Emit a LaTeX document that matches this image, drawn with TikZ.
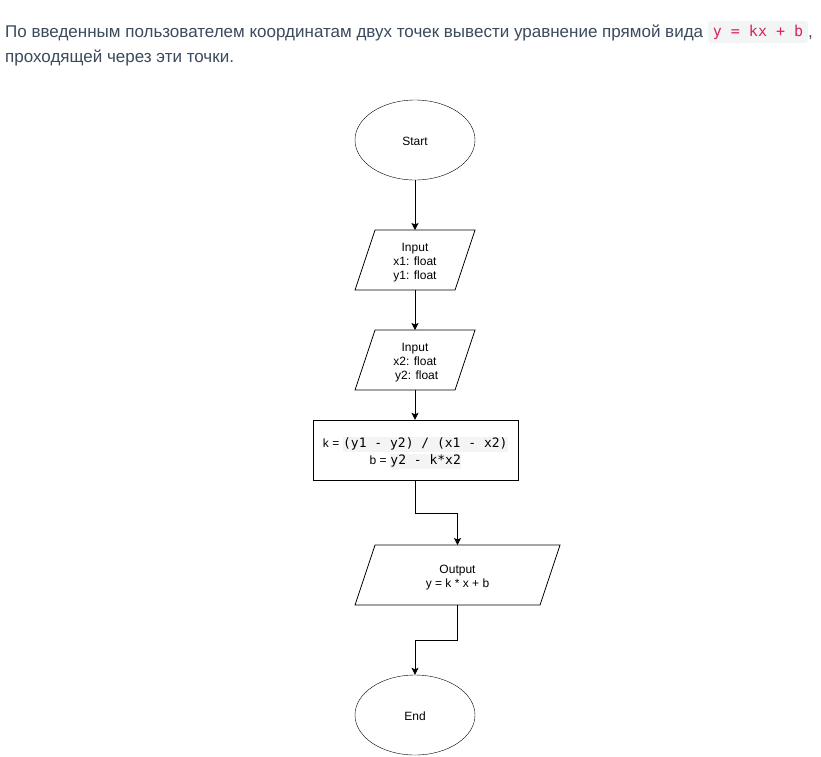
\documentclass[tikz,border=0pt]{standalone}
\usepackage{fontspec}
\setmainfont{Liberation Sans}
\newfontfamily\codefont{DejaVu Sans Mono}
\usetikzlibrary{shapes.geometric,arrows.meta,calc}
\definecolor{hdr}{HTML}{3B4A5C}
\definecolor{codered}{HTML}{DD2255}
\definecolor{codebg}{HTML}{F3F4F6}
\definecolor{hl}{HTML}{F4F4F4}
\newcommand{\hlcode}[1]{{\setlength{\fboxsep}{0.5pt}\colorbox{hl}{\strut\fontsize{13}{14}\selectfont\codefont #1}}}
\begin{document}
\begin{tikzpicture}[x=1pt,y=-1pt,
  every node/.style={font=\fontsize{12}{14}\selectfont, align=center},
  txt/.style={yshift=-3pt},
  term/.style={ellipse, draw, minimum width=120pt, minimum height=80pt, inner sep=0pt},
  io/.style={rectangle, minimum height=60pt, inner sep=0pt, outer sep=0pt},
  proc/.style={rectangle, draw, minimum width=205pt, minimum height=60pt, inner sep=0pt},
  arr/.style={-{Stealth[length=7pt,width=7pt,inset=1.5pt]}, line width=0.8pt},
  hdrtext/.style={font=\fontsize{17}{20}\selectfont, text=hdr, inner sep=0pt, anchor=base west}
]
\useasboundingbox (0,0) rectangle (821,756);
\fill[white] (0,0) rectangle (821,756);

% header
\node[hdrtext] (h1) at (5,37) {По введенным пользователем координатам двух точек вывести уравнение прямой вида};
\node[fill=codebg, rounded corners=3pt, minimum width=100pt, minimum height=22pt, inner sep=0pt,
      font=\fontsize{15}{18}\selectfont\codefont, text=codered] (code) at (758,32) {y = kx + b};
\node[hdrtext] (comma) at (808,37) {,};
\node[hdrtext] (h2) at (5,62) {проходящей через эти точки.};

% flowchart
\node[term, label={[yshift=-1pt]center:Start}] (start) at (415,140) {};
\node[io, minimum width=120pt, label={[txt]center:Input\\x1: float\\y1: float}] (in1) at (415,260) {};
\node[io, minimum width=120pt, label={[txt]center:Input\\x2: float\\\ y2: float}] (in2) at (415,360) {};
\node[proc, label={[txt]center:k = \hlcode{(y1 - y2) / (x1 - x2)}\\[1pt] b = \hlcode{y2 - k*x2}}] (calc) at (415.5,450) {};
\node[io, minimum width=205pt, label={[txt]center:Output\\y = k * x + b}] (out) at (457.5,575) {};
\node[term, label={[yshift=-1pt]center:End}] (end) at (415,715) {};

\foreach \n in {in1,in2,out}{
  \draw[line width=0.8pt] ([xshift=20pt]\n.north west) -- (\n.north east) -- ([xshift=-20pt]\n.south east) -- (\n.south west) -- cycle;
}

\draw[arr] (start) -- (in1.north);
\draw[arr] (in1.south) -- (in2.north);
\draw[arr] (in2.south) -- (in2.south |- calc.north);
\draw[arr] (calc.south) -- ([yshift=-33pt]calc.south) -| (out.north);
\draw[arr] (out.south) -- ([yshift=-35pt]out.south) -| (end.north);
\end{tikzpicture}
\end{document}
